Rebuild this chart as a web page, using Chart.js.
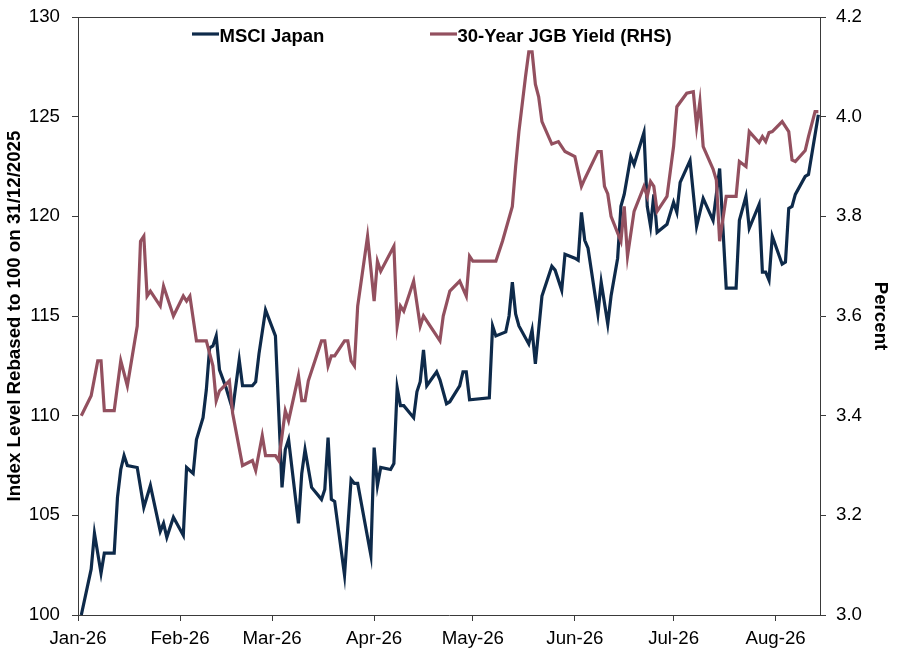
<!DOCTYPE html>
<html>
<head>
<meta charset="utf-8">
<title>MSCI Japan vs 30-Year JGB Yield</title>
<script src="https://cdn.jsdelivr.net/npm/chart.js@4.4.1/dist/chart.umd.min.js"></script>
<style>
  html, body { margin: 0; padding: 0; background: #fff; }
  #wrap { width: 900px; height: 654px; position: relative; }
</style>
</head>
<body>
<div id="wrap"><canvas id="chart"></canvas></div>
<script>
// x values are days since 1 Jan 2026
const monthStarts = [0, 31, 59, 90, 120, 151, 181, 212];
const monthLabels = ["Jan-26", "Feb-26", "Mar-26", "Apr-26", "May-26", "Jun-26", "Jul-26", "Aug-26"];

const msciDays = [1, 4, 5, 7, 8, 11, 12, 13, 14, 15, 18, 20, 22, 25, 26, 27, 29, 32, 33, 35,
  36, 38, 39, 40, 41, 42, 43, 45, 47, 49, 50, 53, 54, 55, 57, 60, 62, 63, 64, 67,
  68, 69, 71, 74, 75, 76, 77, 78, 81, 83, 84, 85, 89, 90, 91, 92, 95, 96, 97, 98,
  99, 102, 103, 104, 105, 106, 109, 110, 112, 113, 116, 117, 118, 119, 125, 126, 127, 130, 131, 132,
  133, 134, 137, 138, 139, 141, 144, 145, 147, 148, 151, 152, 153, 154, 155, 158, 159, 161, 162, 164,
  165, 166, 168, 169, 172, 173, 174, 175, 176, 179, 181, 182, 183, 186, 188, 190, 193, 195, 197, 200,
  201, 203, 204, 207, 208, 209, 210, 211, 214, 215, 216, 217, 218, 221, 222, 225];
const msciLevels = [100.0, 102.3, 104.1, 102.1, 103.1, 103.1, 105.9, 107.3, 108.0, 107.5, 107.4, 105.4, 106.5, 104.2, 104.6, 103.9, 104.9, 104.0, 107.4, 107.1,
  108.8, 109.9, 111.3, 113.4, 113.5, 114.0, 112.3, 111.4, 110.3, 112.8, 111.5, 111.5, 111.7, 113.1, 115.3, 114.0, 106.4, 108.3, 108.8, 104.6,
  107.1, 108.3, 106.4, 105.8, 106.3, 108.9, 105.8, 105.7, 102.0, 106.8, 106.6, 106.6, 103.0, 108.4, 106.5, 107.4, 107.3, 107.6, 111.4, 110.5,
  110.5, 109.9, 111.2, 111.7, 113.3, 111.5, 112.2, 111.8, 110.6, 110.7, 111.5, 112.2, 112.2, 110.8, 110.9, 114.5, 114.0, 114.2, 115.0, 116.7,
  115.1, 114.5, 113.6, 114.3, 112.6, 116.0, 117.5, 117.3, 116.3, 118.1, 117.9, 117.8, 120.2, 118.8, 118.4, 115.1, 116.7, 114.6, 116.0, 117.9,
  120.5, 121.1, 123.0, 122.6, 124.2, 120.5, 119.5, 121.1, 119.2, 119.6, 120.7, 120.2, 121.7, 122.8, 119.5, 120.9, 119.8, 122.4, 116.4, 116.4,
  119.8, 121.0, 119.4, 120.6, 117.2, 117.2, 116.8, 119.0, 117.6, 117.7, 120.4, 120.5, 121.1, 122.0, 122.1, 125.1];

const jgbDays = [1, 4, 6, 7, 8, 11, 13, 15, 18, 19, 20, 21, 22, 25, 26, 29, 32, 33, 34, 36,
  39, 41, 42, 43, 46, 47, 50, 53, 54, 56, 57, 60, 61, 63, 64, 67, 68, 69, 70, 74,
  75, 76, 77, 78, 81, 82, 83, 84, 85, 88, 90, 91, 92, 96, 97, 98, 99, 102, 104, 105,
  108, 110, 111, 113, 116, 118, 119, 120, 127, 129, 132, 133, 134, 136, 137, 138, 139, 140, 141, 144,
  146, 148, 151, 153, 154, 158, 159, 160, 161, 162, 165, 166, 167, 169, 172, 173, 174, 175, 176, 179,
  181, 182, 185, 187, 188, 189, 190, 193, 194, 195, 197, 200, 201, 203, 204, 207, 208, 209, 210, 211,
  214, 216, 217, 218, 221, 222, 224, 225];
const jgbYields = [3.40, 3.44, 3.51, 3.51, 3.41, 3.41, 3.51, 3.46, 3.58, 3.75, 3.76, 3.64, 3.65, 3.62, 3.66, 3.60, 3.64, 3.63, 3.64, 3.55,
  3.55, 3.50, 3.43, 3.45, 3.47, 3.405, 3.30, 3.31, 3.29, 3.36, 3.32, 3.32, 3.31, 3.41, 3.39, 3.48, 3.43, 3.43, 3.47, 3.55,
  3.55, 3.50, 3.52, 3.52, 3.55, 3.55, 3.51, 3.50, 3.62, 3.76, 3.63, 3.71, 3.69, 3.74, 3.58, 3.62, 3.61, 3.67, 3.58, 3.60,
  3.57, 3.55, 3.60, 3.65, 3.67, 3.64, 3.72, 3.71, 3.71, 3.75, 3.82, 3.90, 3.97, 4.08, 4.13, 4.13, 4.065, 4.04, 3.99, 3.945,
  3.95, 3.93, 3.92, 3.86, 3.875, 3.93, 3.93, 3.86, 3.845, 3.80, 3.75, 3.82, 3.72, 3.81, 3.86, 3.84, 3.87, 3.86, 3.81, 3.84,
  3.94, 4.02, 4.047, 4.05, 3.98, 4.03, 3.94, 3.895, 3.873, 3.75, 3.84, 3.84, 3.91, 3.90, 3.97, 3.948, 3.96, 3.95, 3.968, 3.97,
  3.99, 3.97, 3.913, 3.91, 3.932, 3.96, 4.01, 4.01];

const NAVY = "#0e2a4a";
const MAROON = "#93505f";
const AXIS = "#3a3a3a";
const FONT = "'Liberation Sans', Arial, sans-serif";

const toPoints = (xs, ys) => xs.map((x, i) => ({ x: x, y: ys[i] }));

// fixed axis boxes; drop the label overhang padding so the plot keeps its full height
const fixBox = (w, h) => (s) => {
    if (w != null) s.width = w;
    if (h != null) s.height = h;
    s.paddingTop = 0;
    s.paddingBottom = 0;
    s.paddingLeft = 0;
    s.paddingRight = 0;
};

// top frame line plus the in-plot key
const frameAndKey = {
    id: "frameAndKey",
    afterDraw(chart) {
        const { ctx, chartArea: a } = chart;
        ctx.save();
        ctx.strokeStyle = AXIS;
        ctx.lineWidth = 1;
        ctx.beginPath();
        ctx.moveTo(a.left, Math.round(a.top) + 0.5);
        ctx.lineTo(a.right, Math.round(a.top) + 0.5);
        ctx.stroke();

        const keyX = [a.left + 114, a.left + 352];
        ctx.font = "bold 18.5px " + FONT;
        ctx.textBaseline = "alphabetic";
        chart.data.datasets.forEach((ds, i) => {
            const x = keyX[i];
            ctx.strokeStyle = ds.borderColor;
            ctx.lineWidth = 3.2;
            ctx.beginPath();
            ctx.moveTo(x, a.top + 17);
            ctx.lineTo(x + 27, a.top + 17);
            ctx.stroke();
            ctx.fillStyle = "#000";
            ctx.fillText(ds.label, x + 27.5, a.top + 24.6);
        });
        ctx.restore();
    }
};

new Chart(document.getElementById("chart").getContext("2d"), {
    type: "line",
    data: {
        datasets: [
            {
                label: "MSCI Japan",
                data: toPoints(msciDays, msciLevels),
                yAxisID: "y",
                borderColor: NAVY,
                backgroundColor: NAVY,
                borderWidth: 3.2,
                pointRadius: 0,
                tension: 0,
                order: 2,
            },
            {
                label: "30-Year JGB Yield (RHS)",
                data: toPoints(jgbDays, jgbYields),
                yAxisID: "y1",
                borderColor: MAROON,
                backgroundColor: MAROON,
                borderWidth: 3.2,
                pointRadius: 0,
                tension: 0,
                order: 1,
            },
        ],
    },
    options: {
        responsive: true,
        maintainAspectRatio: false,
        animation: false,
        layout: { padding: { top: 17, left: 0, right: 0, bottom: 0 } },
        plugins: {
            legend: { display: false },
            tooltip: { enabled: false },
        },
        scales: {
            x: {
                type: "linear",
                min: 0,
                max: 225.5,
                afterFit: fixBox(null, 39),
                afterBuildTicks: (s) => { s.ticks = monthStarts.map((v) => ({ value: v })); },
                ticks: {
                    autoSkip: false,
                    maxRotation: 0,
                    padding: 7,
                    color: "#000",
                    font: { family: FONT, size: 18.7 },
                    callback: (v, i) => monthLabels[i],
                },
                grid: { drawOnChartArea: false, drawTicks: true, tickLength: 6, color: AXIS },
                border: { display: true, color: AXIS, width: 1 },
            },
            y: {
                position: "left",
                min: 100,
                max: 130,
                afterFit: fixBox(78, null),
                ticks: {
                    stepSize: 5,
                    padding: 12,
                    color: "#000",
                    font: { family: FONT, size: 18.7 },
                },
                grid: { drawOnChartArea: false, drawTicks: true, tickLength: 6, color: AXIS },
                border: { display: true, color: AXIS, width: 1 },
                title: {
                    display: true,
                    text: "Index Level Rebased to 100 on 31/12/2025",
                    color: "#000",
                    padding: { top: 4, bottom: 0 },
                    font: { family: FONT, size: 18.7, weight: "bold" },
                },
            },
            y1: {
                position: "right",
                min: 3.0,
                max: 4.2,
                afterFit: fixBox(80, null),
                ticks: {
                    stepSize: 0.2,
                    padding: 10,
                    color: "#000",
                    font: { family: FONT, size: 18.7 },
                    callback: (v) => Number(v).toFixed(1),
                },
                grid: { drawOnChartArea: false, drawTicks: true, tickLength: 6, color: AXIS },
                border: { display: true, color: AXIS, width: 1 },
                title: {
                    display: true,
                    text: "Percent",
                    color: "#000",
                    padding: { top: 9, bottom: 0 },
                    font: { family: FONT, size: 18.7, weight: "bold" },
                },
            },
        },
    },
    plugins: [frameAndKey],
});
</script>
</body>
</html>
